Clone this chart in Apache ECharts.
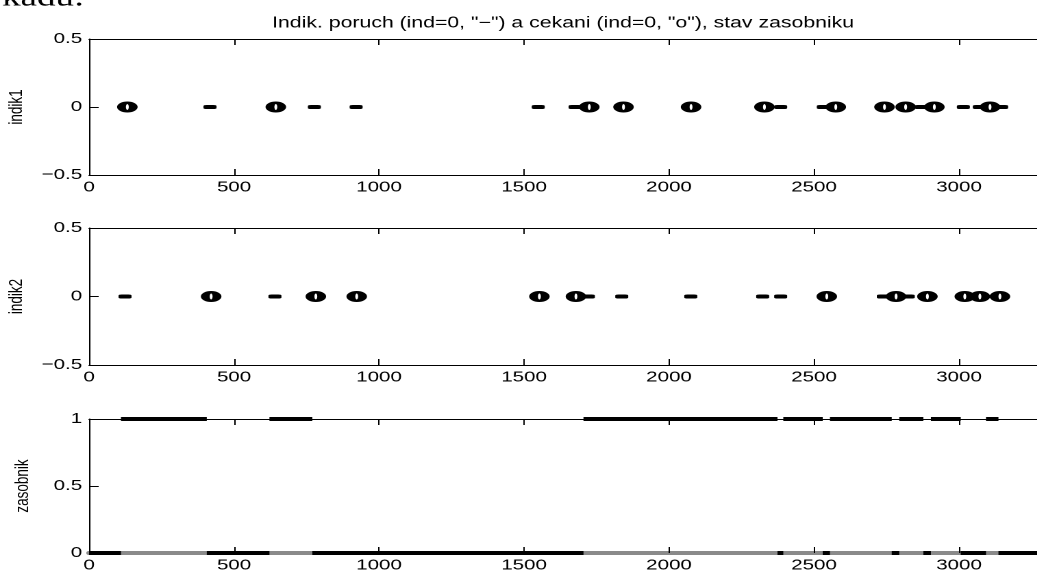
<!DOCTYPE html>
<html>
<head>
<meta charset="utf-8">
<title>Indik. poruch a cekani, stav zasobniku</title>
<script src="https://cdn.jsdelivr.net/npm/echarts@6/dist/echarts.min.js"></script>
<style>
html, body { margin: 0; padding: 0; overflow: hidden; background: #fff; }
/* puvodni obrazek je vodorovne roztazeny -> kreslime uzsi a natahneme */
#main { width: 770px; height: 575px; transform: scaleX(1.37); transform-origin: 0 0; }
</style>
</head>
<body>
<div id="main"></div>
<script>
// osa x (cas)
const xTicks = [0, 500, 1000, 1500, 2000, 2500, 3000];
const xMax = 3300;
const indikTicks = [-0.5, 0, 0.5];
const zasobnikTicks = [0, 0.5, 1];

// indik1: poruchy ("-") a cekani ("o")
const indik1Poruchy = [417, 777, 921, 1549, 1676, 2385, 2532, 2869, 3015, 3070, 3147];
const indik1Cekani = [132, 644, 1725, 1843, 2076, 2329, 2575, 2743, 2816, 2915, 3107];

// indik2
const indik2Poruchy = [124, 641, 1722, 1837, 2075, 2323, 2385, 2739, 2825];
const indik2Cekani = [421, 782, 923, 1553, 1679, 2544, 2783, 2891, 3020, 3072, 3141];

// zasobnik = 1 v techto usecich, jinak 0
const zasobnikStart = [110, 622, 1705, 2394, 2555, 2794, 2903, 3093];
const zasobnikEnd = [406, 770, 2374, 2530, 2768, 2877, 3006, 3136];

const FONT = 'Liberation Sans';
const ellipse = 'path://M0,5A5,5,0,1,1,10,5A5,5,0,1,1,0,5ZM4.3,5A0.7,2.7,0,1,0,5.7,5A0.7,2.7,0,1,0,4.3,5Z';

function minus(v) {
  return v < 0 ? '\u2212' + Math.abs(v) : String(v);
}

const panels = [
  { top: 39, height: 136, name: 'indik1', ticks: indikTicks },
  { top: 228, height: 137, name: 'indik2', ticks: indikTicks },
  { top: 419, height: 134, name: 'zasobnik', ticks: zasobnikTicks }
];

const grid = panels.map(p => ({
  left: 65, right: 6.5, top: p.top, height: p.height, outerBoundsMode: 'none'
}));

const xStep = xTicks[1] - xTicks[0];
const xBottom = panels.map((p, i) => ({
  type: 'value', gridIndex: i, position: 'bottom',
  min: xTicks[0], max: xMax, interval: xStep,
  axisLine: { onZero: false, lineStyle: { color: i === 2 ? '#8a8a8a' : '#000', width: i === 2 ? 4 : 1 } },
  axisTick: { inside: true, length: 6, lineStyle: { color: '#000' } },
  axisLabel: {
    margin: 5, color: '#000', fontSize: 15, fontFamily: FONT, showMaxLabel: false,
    formatter: v => String(v)
  },
  splitLine: { show: false }
}));
const xTop = panels.map((p, i) => ({
  type: 'value', gridIndex: i, position: 'top',
  min: xTicks[0], max: xMax, interval: xStep,
  axisLine: { onZero: false, lineStyle: { color: '#000', width: 1 } },
  axisTick: { inside: true, length: 6, lineStyle: { color: '#000' } },
  axisLabel: { show: false },
  splitLine: { show: false }
}));

const yAxis = panels.map((p, i) => ({
  type: 'value', gridIndex: i,
  min: p.ticks[0], max: p.ticks[p.ticks.length - 1], interval: p.ticks[1] - p.ticks[0],
  name: p.name, nameLocation: 'middle', nameGap: 41, nameRotate: 90,
  nameTextStyle: { color: '#000', fontSize: 13.5, fontFamily: FONT },
  axisLine: { onZero: false, lineStyle: { color: '#000', width: 1 } },
  axisTick: { inside: true, length: 7, lineStyle: { color: '#000' } },
  axisLabel: { margin: 5, color: '#000', fontSize: 15, fontFamily: FONT, formatter: minus },
  splitLine: { show: false }
}));

function poruchy(data, i) {
  return {
    type: 'scatter', xAxisIndex: i, yAxisIndex: i,
    symbol: 'roundRect', symbolSize: [9.5, 4],
    itemStyle: { color: '#000', opacity: 1 },
    data: data.map(x => [x, 0]), z: 3
  };
}
function cekani(data, i) {
  return {
    type: 'scatter', xAxisIndex: i, yAxisIndex: i,
    symbol: ellipse, symbolSize: [15, 11], symbolKeepAspect: false,
    itemStyle: { color: '#000', opacity: 1 },
    data: data.map(x => [x, 0]), z: 4
  };
}

function zasobnikUseky() {
  const out = [];
  let pos = xTicks[0];
  zasobnikStart.forEach((s, k) => {
    out.push([pos, s, 0]);
    out.push([s, zasobnikEnd[k], 1]);
    pos = zasobnikEnd[k];
  });
  out.push([pos, xMax, 0]);
  return out;
}

const chart = echarts.init(document.getElementById('main'), null, { renderer: 'canvas', devicePixelRatio: 2 });
chart.setOption({
  animation: false,
  backgroundColor: '#fff',
  title: {
    text: 'Indik. poruch (ind=0, "\u2212") a cekani (ind=0, "o"), stav zasobniku',
    left: 406, top: 10, textAlign: 'center',
    textStyle: { fontFamily: FONT, fontSize: 15.5, fontWeight: 'normal', color: '#000' }
  },
  graphic: [{
    type: 'text', left: 1.5, top: -15,
    style: { text: 'kadu:', font: '27px "Liberation Serif"', fill: '#000' }
  }],
  grid: grid,
  xAxis: xBottom.concat(xTop),
  yAxis: yAxis,
  series: [
    poruchy(indik1Poruchy, 0),
    cekani(indik1Cekani, 0),
    poruchy(indik2Poruchy, 1),
    cekani(indik2Cekani, 1),
    {
      type: 'custom', xAxisIndex: 2, yAxisIndex: 2,
      encode: { x: [0, 1], y: 2 },
      clip: false,
      renderItem: function (params, api) {
        const a = api.coord([api.value(0), api.value(2)]);
        const b = api.coord([api.value(1), api.value(2)]);
        return {
          type: 'line',
          shape: { x1: a[0], y1: a[1], x2: b[0], y2: b[1] },
          style: { stroke: '#000', lineWidth: 4 }
        };
      },
      data: zasobnikUseky(),
      z: 3
    }
  ]
});
</script>
</body>
</html>
